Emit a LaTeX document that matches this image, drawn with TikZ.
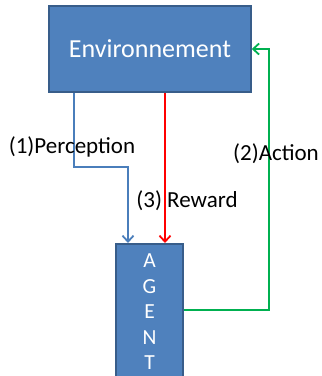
\documentclass[tikz,border=0pt]{standalone}
\usepackage{fontspec}
\setmainfont{Carlito}
\usetikzlibrary{arrows.meta}

\definecolor{boxblue}{HTML}{4F81BD}
\definecolor{boxedge}{HTML}{385D8A}
\definecolor{percblue}{HTML}{4A7EBB}
\definecolor{actgreen}{HTML}{00B050}

\tikzset{
  block/.style={draw=boxedge,fill=boxblue,line width=1.5pt,text=white,inner sep=0pt},
  flow/.style={line width=2.2pt,-{Straight Barb[length=6pt,width=11pt,line width=1.8pt]}},
  lbl/.style={inner sep=0pt,font=\fontsize{23}{25}\selectfont}
}

\begin{document}
\begin{tikzpicture}[x=1pt,y=-1pt]
    \clip (0,0) rectangle (322,376);
    \node[block,minimum width=202pt,minimum height=86pt,font=\fontsize{26}{28}\selectfont] (env) at (150,49) {Environnement};
    \node[block,anchor=north,minimum width=67pt,align=center,inner ysep=10pt,
          font=\fontsize{21.5}{25.5}\selectfont] (agent) at (149.5,243) {A\\G\\E\\N\\T};
    % perception
    \draw[flow,percblue] (env.south -| 74,0) |- (128,167) -- (agent.north -| 128,0);
    % reward
    \draw[flow,red] (env.south -| 165,0) -- (agent.north -| 165,0);
    % action
    \draw[flow,actgreen] (agent.north east |- 0,310) -| (269,49) -- (env.east);
    \node[lbl] (perc) at (72,147) {(1)Perception};
    \node[lbl] (act) at (276,154) {(2)Action};
    \node[lbl] (rew) at (187,201) {(3) Reward};
\end{tikzpicture}
\end{document}
